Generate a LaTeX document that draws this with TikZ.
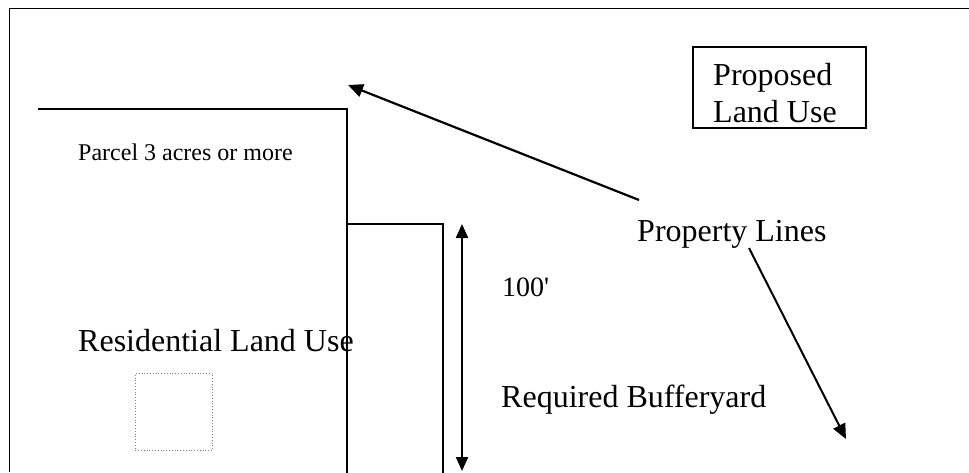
\documentclass[tikz,border=0pt]{standalone}
\usepackage{fontspec}
\setmainfont{Liberation Serif}
\newfontfamily\rawserif{Liberation Serif}
\usetikzlibrary{arrows.meta}
\begin{document}
\begin{tikzpicture}[x=1pt,y=-1pt,
  lbl/.style={anchor=base west,inner sep=0pt,font=\fontsize{32}{37}\selectfont},
  small/.style={anchor=base west,inner sep=0pt,font=\fontsize{24}{28}\selectfont},
  mid/.style={anchor=base west,inner sep=0pt,font=\rawserif\fontsize{28}{32}\selectfont},
  pline/.style={line width=1.6pt,line cap=rect},
  arr/.style={line width=2.2pt,-{Triangle[length=15pt,width=13pt]}},
  darr/.style={line width=2.2pt,{Triangle[length=14pt,width=12pt]}-{Triangle[length=14pt,width=12pt]}}]
\useasboundingbox (0,0) rectangle (969,472);
% outer frame (open to right and bottom)
\draw[line width=1.8pt] (9.5,472) -- (9.5,8.5) -- (969,8.5);
% parcel
\draw[pline] (39,109) -- (347,109) -- (347,472);
% bufferyard
\draw[pline] (347,224) -- (443,224) -- (443,472);
% dotted square
\node[draw=gray,dotted,line width=0.8pt,minimum width=77pt,minimum height=77pt,inner sep=0pt,anchor=north west] (sq) at (135,373) {};
% texts
\node[small] (parcel) at (78,160) {Parcel 3 acres or more};
\node[lbl] (res) at (78,351) {Residential Land Use};
\node[mid] (hund) at (502,296) {100'};
\node[lbl] (req) at (501,407) {Required Bufferyard};
\node[lbl] (prop) at (637,241) {Property Lines};
% proposed land use box
\node[draw,line width=1.6pt,minimum width=173pt,minimum height=81pt,inner sep=0pt,anchor=north west] (box) at (692,46) {};
\node[lbl] (pl1) at (713,85) {Proposed};
\node[lbl] (pl2) at (713,122) {Land Use};
% arrows
\coordinate (a1s) at (639,200);
\coordinate (a1e) at (348,85);
\coordinate (a2s) at (749,248);
\coordinate (a2e) at (846,439);
\coordinate (d1) at (462,224);
\coordinate (d2) at (462,471);
\draw[arr] (a1s) -- (a1e);
\draw[arr,line width=2pt] (a2s) -- (a2e);
\draw[darr] (d1) -- (d2);
\end{tikzpicture}
\end{document}
